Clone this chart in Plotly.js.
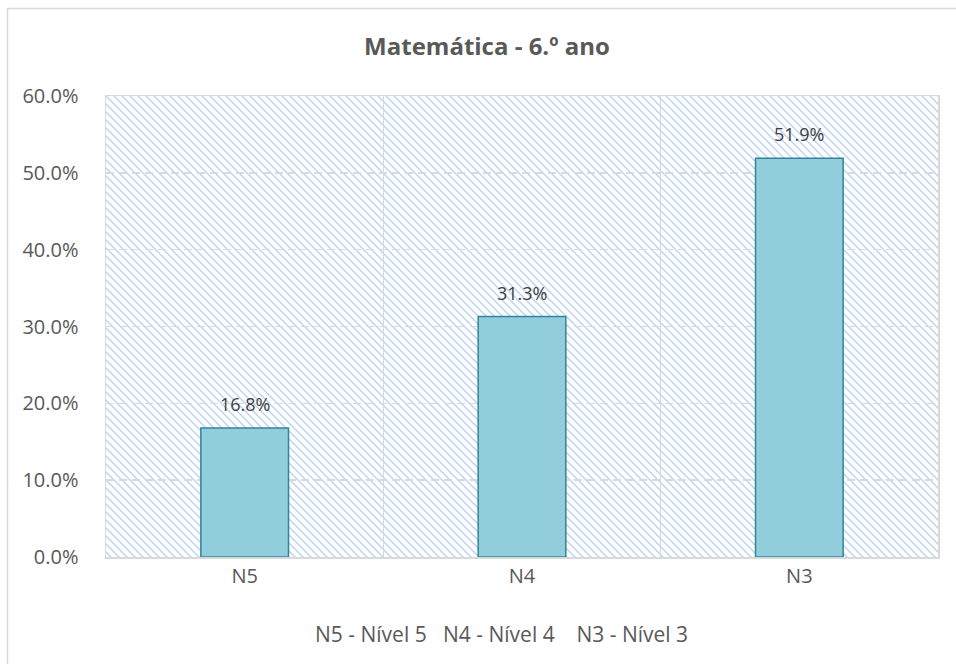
<!DOCTYPE html>
<html>
<head>
<meta charset="utf-8">
<script src="https://cdn.plot.ly/plotly-3.0.1.min.js"></script>
<style>html,body{margin:0;padding:0;background:#fff;}#chart{width:956px;height:664px;}</style>
</head>
<body>
<div id="chart"></div>
<script>
// Data
const categories = ["N5", "N4", "N3"];
const values = [0.168, 0.313, 0.519];
const yTickValues = [0, 0.1, 0.2, 0.3, 0.4, 0.5, 0.6];
const chartTitle = "Matemática - 6.º ano";
const legendNote = "N5 - Nível 5\u00a0\u00a0\u00a0N4 - Nível 4\u00a0\u00a0\u00a0\u00a0N3 - Nível 3";

const W = 956, H = 664;
const M = {l: 106, r: 18, t: 96, b: 107};
const PW = W - M.l - M.r, PH = H - M.t - M.b;
const FONT = "'Open Sans', 'DejaVu Sans', sans-serif";
const TXT = "#595959";

// hatched plot-area background
const svgPat = '<svg xmlns="http://www.w3.org/2000/svg" width="' + PW + '" height="' + PH + '">' +
  '<defs><pattern id="p" width="8" height="8" patternUnits="userSpaceOnUse">' +
  '<path d="M-1,-1 L9,9 M-1,7 L1,9 M7,-1 L9,1" stroke="#BCD2F2" stroke-width="1.4"/>' +
  '</pattern></defs><rect width="100%" height="100%" fill="#ffffff"/><rect width="100%" height="100%" fill="url(#p)"/></svg>';
const patURI = 'data:image/svg+xml;base64,' + btoa(unescape(encodeURIComponent(svgPat)));

const trace = {
  type: "bar",
  x: categories,
  y: values,
  marker: {color: "#92CDDC", line: {color: "#31849B", width: 1.5}},
  width: 0.316,
  hoverinfo: "skip"
};

const annotations = categories.map((c, i) => ({
  x: c, y: values[i], xref: "x", yref: "y",
  text: (values[i] * 100).toFixed(1) + "%",
  showarrow: false, yanchor: "middle", yshift: 24,
  font: {family: FONT, size: 18, color: "#404040"}
}));
annotations.push({
  xref: "paper", yref: "paper", x: (501 - M.l) / PW, y: -(634 - (H - M.b)) / PH,
  xanchor: "center", yanchor: "middle", showarrow: false,
  text: legendNote, font: {family: FONT, size: 21, color: TXT}
});

const layout = {
  width: W, height: H,
  margin: M,
  paper_bgcolor: "#ffffff",
  plot_bgcolor: "rgba(0,0,0,0)",
  showlegend: false,
  font: {family: FONT, color: TXT},
  title: {
    text: "<b>" + chartTitle + "</b>",
    font: {family: FONT, size: 24, color: TXT},
    xref: "container", yref: "container",
    x: 487 / W, y: 1 - 47 / H, xanchor: "center", yanchor: "middle"
  },
  xaxis: {
    type: "category",
    range: [-0.5, 2.5],
    tickson: "boundaries",
    showgrid: true, gridcolor: "#D9D9D9", gridwidth: 1.5,
    showline: true, linecolor: "#D9D9D9", linewidth: 1.5, mirror: true,
    ticks: "outside", ticklen: 12, tickcolor: "rgba(0,0,0,0)",
    tickfont: {family: FONT, size: 20, color: TXT},
    fixedrange: true
  },
  yaxis: {
    range: [0, 0.6],
    tickvals: yTickValues,
    tickformat: ".1%",
    showgrid: true, gridcolor: "#D9D9D9", gridwidth: 1.5, griddash: "8px,5px",
    zeroline: false,
    showline: true, linecolor: "#D9D9D9", linewidth: 1.5, mirror: true,
    ticks: "outside", ticklen: 22, tickcolor: "rgba(0,0,0,0)",
    tickfont: {family: FONT, size: 20, color: TXT},
    fixedrange: true
  },
  images: [{
    source: patURI, xref: "paper", yref: "paper",
    x: 0, y: 1, sizex: 1, sizey: 1, xanchor: "left", yanchor: "top",
    sizing: "stretch", layer: "below"
  }],
  shapes: [{
    type: "rect", xref: "paper", yref: "paper",
    x0: (7.5 - M.l) / PW, x1: (W + 10 - M.l) / PW,
    y0: -(H + 10 - (H - M.b)) / PH, y1: ((H - M.b) - 8.5) / PH,
    line: {color: "#D9D9D9", width: 1.5}, fillcolor: "rgba(0,0,0,0)", layer: "below"
  }],
  annotations: annotations
};

Plotly.newPlot("chart", [trace], layout, {displayModeBar: false, staticPlot: true});
</script>
</body>
</html>
